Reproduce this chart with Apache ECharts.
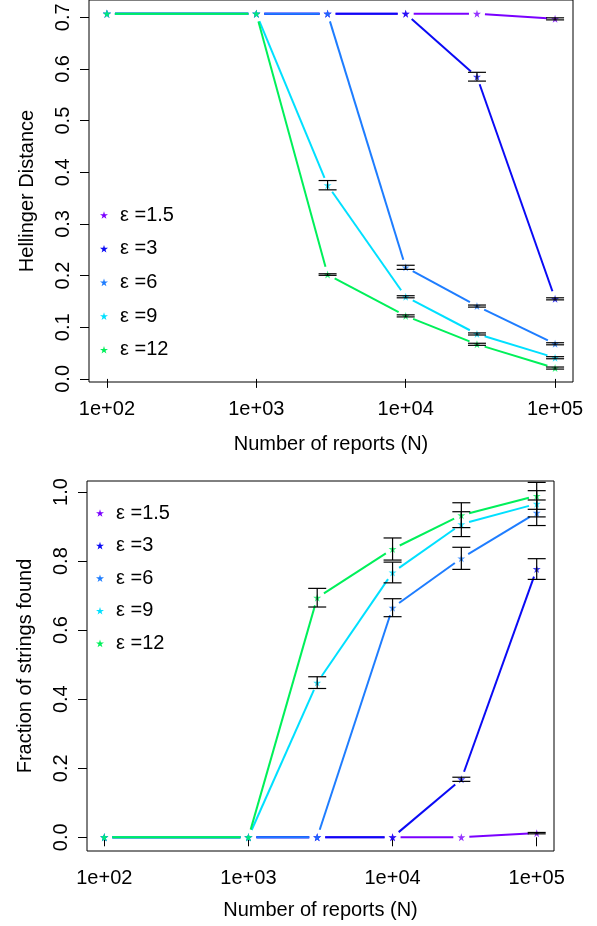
<!DOCTYPE html>
<html><head><meta charset="utf-8">
<script src="https://cdn.jsdelivr.net/npm/echarts@6/dist/echarts.min.js"></script>
<style>html,body{margin:0;padding:0;background:#fff}#c{width:597px;height:926px}</style>
</head><body><div id="c"></div>
<script>
// ---- data ----
const reportsN = [100, 1000, 3000, 10000, 30000, 100000];
const xTicks = [100, 1000, 10000, 100000];
const xTickLabels = ['1e+02', '1e+03', '1e+04', '1e+05'];
const epsNames = ['ε =1.5', 'ε =3', 'ε =6', 'ε =9', 'ε =12'];
const epsColors = ['#7A00FF', '#0A0AF5', '#1E7DFF', '#00E0FF', '#00F05A'];

// Hellinger distance (top panel)
const hell15 = [0.707, 0.707, 0.707, 0.707, 0.707, 0.697];
const hell3  = [0.707, 0.707, 0.707, 0.707, 0.585, 0.155];
const hell6  = [0.707, 0.707, 0.707, 0.216, 0.141, 0.068];
const hell9  = [0.707, 0.707, 0.375, 0.159, 0.087, 0.041];
const hell12 = [0.707, 0.707, 0.202, 0.122, 0.067, 0.021];
const hellErr15 = [0, 0, 0, 0, 0, 0.002];
const hellErr3  = [0, 0, 0, 0, 0.0085, 0.002];
const hellErr6  = [0, 0, 0, 0.004, 0.002, 0.002];
const hellErr9  = [0, 0, 0.009, 0.002, 0.002, 0.002];
const hellErr12 = [0, 0, 0.0015, 0.002, 0.002, 0.002];

// Fraction of strings found (bottom panel)
const frac15 = [0, 0, 0, 0, 0, 0.012];
const frac3  = [0, 0, 0, 0, 0.168, 0.777];
const frac6  = [0, 0, 0, 0.665, 0.808, 0.940];
const frac9  = [0, 0, 0.448, 0.767, 0.907, 0.966];
const frac12 = [0, 0, 0.694, 0.835, 0.933, 0.989];
const fracErr15 = [0, 0, 0, 0, 0, 0.002];
const fracErr3  = [0, 0, 0, 0, 0.006, 0.030];
const fracErr6  = [0, 0, 0, 0.026, 0.032, 0.037];
const fracErr9  = [0, 0, 0.017, 0.030, 0.036, 0.038];
const fracErr12 = [0, 0, 0.027, 0.032, 0.036, 0.039];

const topYTicks = [0, 0.1, 0.2, 0.3, 0.4, 0.5, 0.6, 0.7];
const botYTicks = [0, 0.2, 0.4, 0.6, 0.8, 1.0];

// ---- build ----
const FONT = 'Liberation Sans, Arial, sans-serif';
const STAR = 'path://M50,0 L61,35 L98,35 L68,57 L79,91 L50,70 L21,91 L32,57 L2,35 L39,35 Z';
const xLog = reportsN.map(v => Math.log10(v));
const xTickLog = xTicks.map(v => Math.log10(v));
const hellSets = [hell15, hell3, hell6, hell9, hell12];
const hellErrSets = [hellErr15, hellErr3, hellErr6, hellErr9, hellErr12];
const fracSets = [frac15, frac3, frac6, frac9, frac12];
const fracErrSets = [fracErr15, fracErr3, fracErr6, fracErr9, fracErr12];

function segRender(params, api) {
  const a = api.coord([api.value(0), api.value(1)]);
  const b = api.coord([api.value(2), api.value(3)]);
  const dx = b[0] - a[0], dy = b[1] - a[1];
  const L = Math.hypot(dx, dy), g = 8;
  if (L <= 2 * g) return null;
  const ux = dx / L, uy = dy / L;
  return {
    type: 'line',
    shape: { x1: a[0] + ux * g, y1: a[1] + uy * g, x2: b[0] - ux * g, y2: b[1] - uy * g },
    style: { stroke: api.visual('color'), lineWidth: 2 }
  };
}
function errRender(params, api) {
  const x = api.value(0), y = api.value(1), e = api.value(2);
  const t = api.coord([x, y + e]), b = api.coord([x, y - e]);
  const hw = 9;
  const st = { stroke: '#000', lineWidth: 1.2 };
  return {
    type: 'group',
    children: [
      { type: 'line', shape: { x1: t[0], y1: t[1], x2: b[0], y2: b[1] }, style: st },
      { type: 'line', shape: { x1: t[0] - hw, y1: t[1], x2: t[0] + hw, y2: t[1] }, style: st },
      { type: 'line', shape: { x1: b[0] - hw, y1: b[1], x2: b[0] + hw, y2: b[1] }, style: st }
    ]
  };
}

const series = [];
function addPanel(idx, sets, errSets) {
  sets.forEach((vals, i) => {
    const segs = [];
    for (let k = 0; k < vals.length - 1; k++) segs.push([xLog[k], vals[k], xLog[k + 1], vals[k + 1]]);
    series.push({
      type: 'custom', name: epsNames[i], xAxisIndex: idx, yAxisIndex: idx,
      renderItem: segRender, data: segs, encode: { x: [0, 2], y: [1, 3] },
      itemStyle: { color: epsColors[i] }, z: 2 + i * 0.1, silent: true
    });
    series.push({
      type: 'scatter', name: epsNames[i], xAxisIndex: idx, yAxisIndex: idx,
      data: vals.map((v, k) => [xLog[k], v]), symbol: STAR, symbolSize: 8,
      itemStyle: { color: epsColors[i] }, z: 3 + i * 0.1, silent: true
    });
  });
  const errs = [];
  sets.forEach((vals, i) => vals.forEach((v, k) => {
    if (errSets[i][k] > 0) errs.push([xLog[k], v, errSets[i][k]]);
  }));
  series.push({
    type: 'custom', xAxisIndex: idx, yAxisIndex: idx, renderItem: errRender,
    data: errs, encode: { x: 0, y: 1 }, z: 5, silent: true
  });
}
addPanel(0, hellSets, hellErrSets);
addPanel(1, fracSets, fracErrSets);

function xAxisCfg(idx, gap) {
  return {
    gridIndex: idx, type: 'value', min: 1.88, max: 5.12,
    axisLine: { show: false }, splitLine: { show: false },
    axisTick: { show: true, customValues: xTickLog, length: 9, lineStyle: { color: '#000', width: 1 } },
    axisLabel: {
      customValues: xTickLog, margin: 17, fontSize: 20, fontFamily: FONT, color: '#000',
      formatter: v => xTickLabels[xTickLog.findIndex(t => Math.abs(t - v) < 1e-6)]
    },
    name: 'Number of reports (N)', nameLocation: 'middle', nameGap: gap,
    nameTextStyle: { fontSize: 20, fontFamily: FONT, color: '#000' }
  };
}
function yAxisCfg(idx, min, max, ticks, name) {
  return {
    gridIndex: idx, type: 'value', min: min, max: max,
    axisLine: { show: false }, splitLine: { show: false },
    axisTick: { show: true, customValues: ticks, length: 9, lineStyle: { color: '#000', width: 1 } },
    axisLabel: {
      customValues: ticks, rotate: 90, margin: 16, fontSize: 20, fontFamily: FONT, color: '#000',
      formatter: v => v.toFixed(1)
    },
    name: name, nameLocation: 'middle', nameGap: 52, nameRotate: 90,
    nameTextStyle: { fontSize: 20, fontFamily: FONT, color: '#000' }
  };
}
function legendCfg(left, top, gap) {
  return {
    data: epsNames, orient: 'vertical', left: left, top: top, itemGap: gap,
    itemWidth: 8, itemHeight: 8, icon: STAR, selectedMode: false, padding: 0,
    textStyle: { fontSize: 20, fontFamily: FONT, color: '#000', padding: [0, 0, 0, 7] }
  };
}

const chart = echarts.init(document.getElementById('c'), null, { renderer: 'canvas' });
chart.setOption({
  animation: false,
  backgroundColor: '#fff',
  grid: [
    { left: 89, top: 0, width: 484, height: 382, show: true, borderColor: '#000', borderWidth: 1 },
    { left: 87, top: 481, width: 467, height: 370, show: true, borderColor: '#000', borderWidth: 1 }
  ],
  xAxis: [xAxisCfg(0, 52), xAxisCfg(1, 49)],
  yAxis: [
    yAxisCfg(0, -0.006, 0.7335, topYTicks, 'Hellinger Distance'),
    yAxisCfg(1, -0.0397, 1.032, botYTicks, 'Fraction of strings found')
  ],
  legend: [legendCfg(100, 205, 13.7), legendCfg(96, 503, 12.6)],
  series: series
});
</script></body></html>
